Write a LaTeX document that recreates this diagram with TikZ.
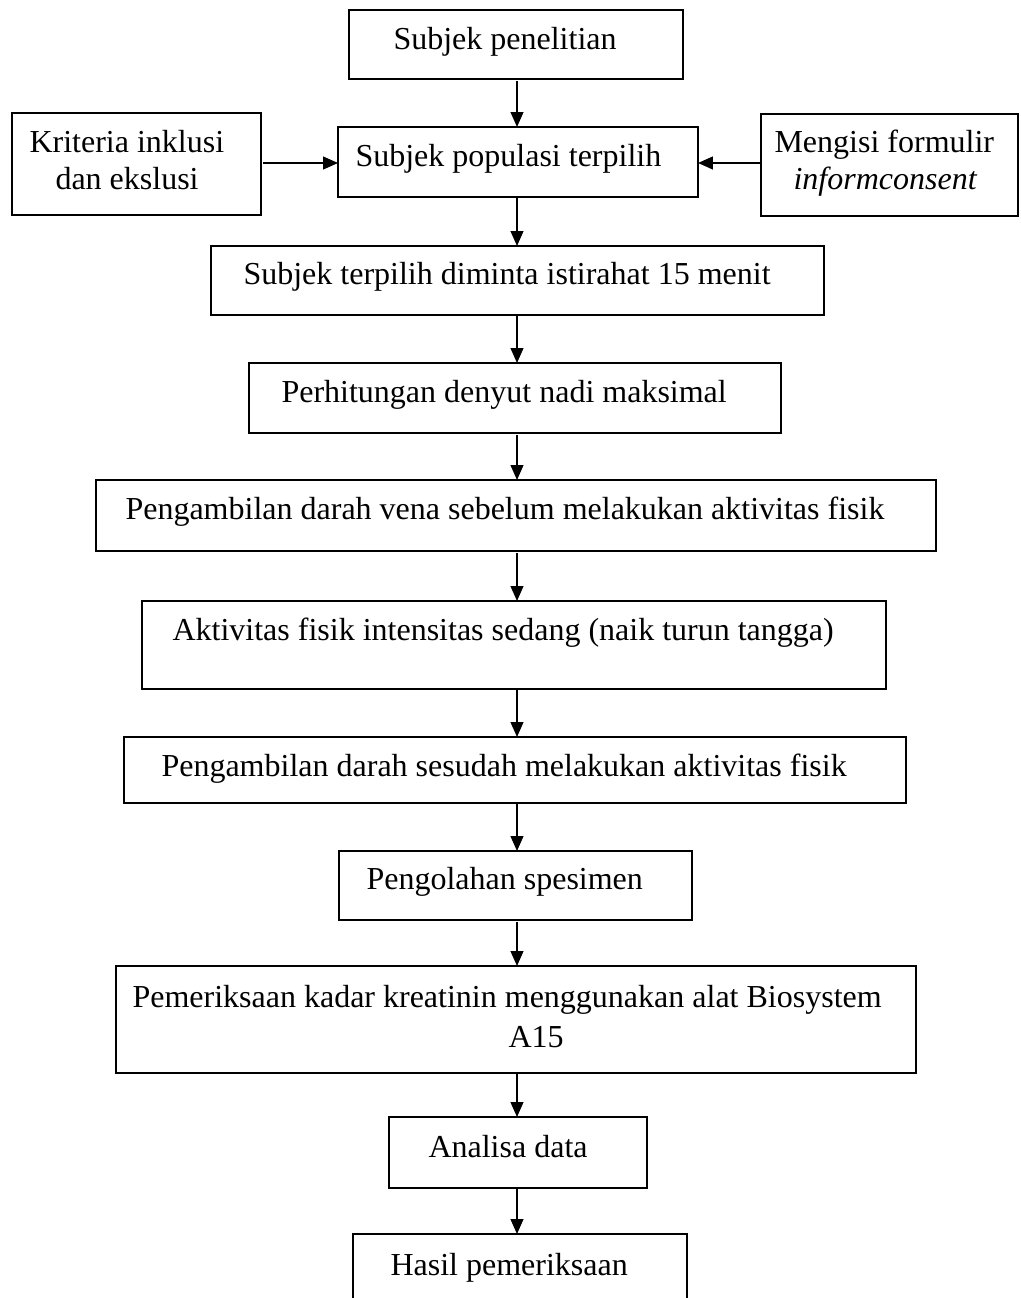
\documentclass[tikz,border=0pt]{standalone}
\usepackage{fontspec}
\setmainfont{Liberation Serif}
\usetikzlibrary{arrows.meta}
\newcommand\mkbox[5]{\node[boxnode, anchor=north west, minimum width={(#4-#2)*0.375pt}, minimum height={(#5-#3)*0.375pt}] (#1) at (#2,#3) {};}
\begin{document}
\begin{tikzpicture}[x=0.375pt, y=-0.375pt,
  boxnode/.style={draw, line width=0.8pt, inner sep=0pt, outer sep=0pt},
  txt/.style={anchor=base west, inner sep=0pt, font=\fontsize{12pt}{13.8pt}\selectfont},
  arr/.style={line width=0.6pt, -{Triangle[length=5.6pt,width=4.8pt]}}]
\useasboundingbox (0,0) rectangle (1020,1298);
% boxes
\mkbox{b1}{349}{10}{683}{79}
\mkbox{b2}{12}{113}{261}{215}
\mkbox{b3}{338}{127}{698}{197}
\mkbox{b4}{761}{114}{1018}{216}
\mkbox{b5}{211}{246}{824}{315}
\mkbox{b6}{249}{363}{781}{433}
\mkbox{b7}{96}{480}{936}{551}
\mkbox{b8}{142}{601}{886}{689}
\mkbox{b9}{124}{737}{906}{803}
\mkbox{b10}{339}{851}{692}{920}
\mkbox{b11}{116}{966}{916}{1073}
\mkbox{b12}{389}{1117}{647}{1188}
\mkbox{b13}{353}{1234}{687}{1340}
% texts
\node[txt] (t1) at (393,50) {Subjek penelitian};
\node[txt] (t2a) at (29,153) {Kriteria inklusi};
\node[txt] (t2b) at (55,190) {dan ekslusi};
\node[txt] (t3) at (355,167) {Subjek populasi terpilih};
\node[txt] (t4a) at (774,153) {Mengisi formulir};
\node[txt] (t4b) at (793,190) {\itshape informconsent};
\node[txt] (t5) at (243,285) {Subjek terpilih diminta istirahat 15 menit};
\node[txt] (t6) at (281,402) {Perhitungan denyut nadi maksimal};
\node[txt] (t7) at (125,519) {Pengambilan darah vena sebelum melakukan aktivitas fisik};
\node[txt] (t8) at (172,640) {Aktivitas fisik intensitas sedang (naik turun tangga)};
\node[txt] (t9) at (161,776) {Pengambilan darah sesudah melakukan aktivitas fisik};
\node[txt] (t10) at (366,889) {Pengolahan spesimen};
\node[txt] (t11a) at (132,1007) {Pemeriksaan kadar kreatinin menggunakan alat Biosystem};
\node[txt] (t11b) at (508,1047) {A15};
\node[txt] (t12) at (428,1157) {Analisa data};
\node[txt] (t13) at (390,1275) {Hasil pemeriksaan};
% connectors
\coordinate (ax) at (517,0);
\coordinate (ay) at (0,163);
\draw[arr] (b1.south -| ax) ++(0,2) -- (b3.north -| ax);
\draw[arr] (b3.south -| ax) -- (b5.north -| ax);
\draw[arr] (b5.south -| ax) -- (b6.north -| ax);
\draw[arr] (b6.south -| ax) ++(0,2) -- (b7.north -| ax);
\draw[arr] (b7.south -| ax) ++(0,2) -- (b8.north -| ax);
\draw[arr] (b8.south -| ax) -- (b9.north -| ax);
\draw[arr] (b9.south -| ax) -- (b10.north -| ax);
\draw[arr] (b10.south -| ax) ++(0,2) -- (b11.north -| ax);
\draw[arr] (b11.south -| ax) -- (b12.north -| ax);
\draw[arr] (b12.south -| ax) -- (b13.north -| ax);
\draw[arr] (b2.east |- ay) ++(2,0) -- (b3.west |- ay);
\draw[arr] (b4.west |- ay) -- (b3.east |- ay);
\end{tikzpicture}
\end{document}
